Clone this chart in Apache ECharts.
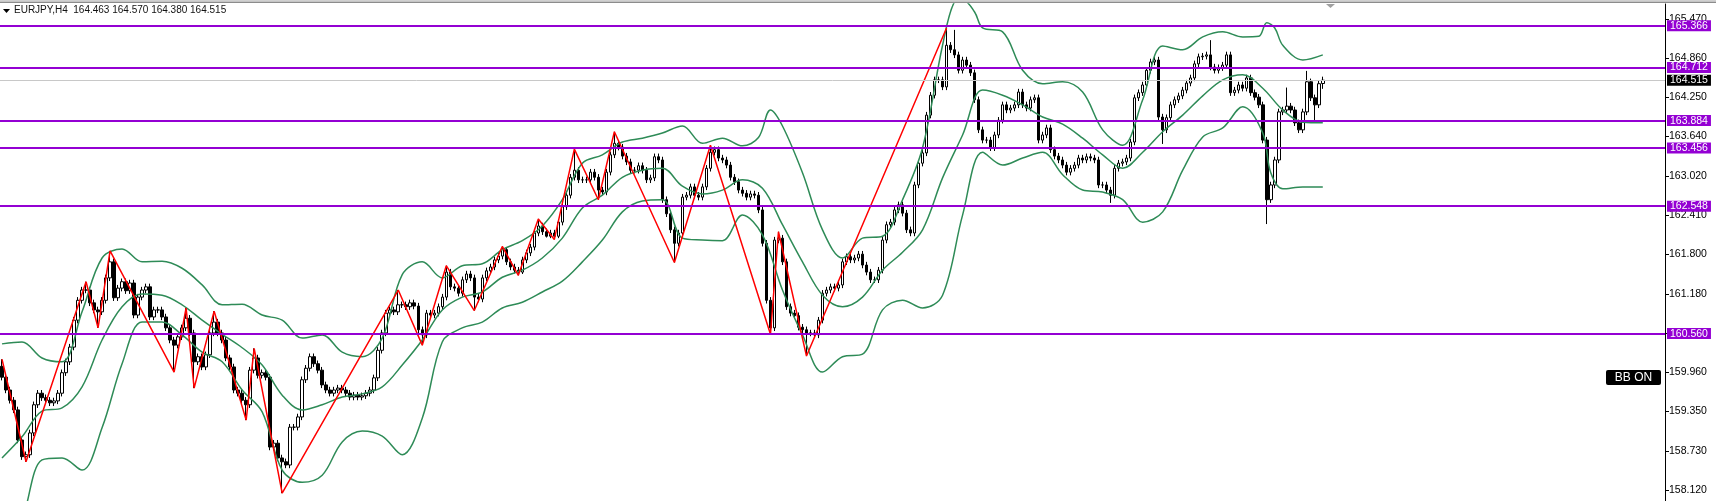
<!DOCTYPE html>
<html><head><meta charset="utf-8">
<script src="https://cdn.jsdelivr.net/npm/echarts@6/dist/echarts.min.js"></script>
<style>html,body{margin:0;padding:0;background:#fff}#c{width:1716px;height:501px}</style>
</head><body><div id="c"></div>
<script>
const symbolName = 'EURJPY,H4';
const lastBar = [164.463, 164.570, 164.380, 164.515];

const opens = [
160.05,159.88,159.68,159.52,159.37,158.90,158.64,158.67,159.01,159.45,
159.63,159.56,159.52,159.48,159.51,159.63,159.95,160.12,160.35,160.77,
161.08,161.24,161.24,161.04,160.93,160.90,161.08,161.43,161.68,161.12,
161.27,161.37,161.23,161.35,160.85,161.13,161.24,161.29,160.82,160.93,
160.93,160.82,160.65,160.46,160.38,160.51,160.65,160.80,160.57,160.12,
160.20,160.04,160.23,160.57,160.74,160.57,160.46,160.18,160.04,159.68,
159.63,159.52,159.45,159.99,160.18,159.91,159.95,159.88,158.79,158.85,
158.62,158.56,158.51,159.10,159.10,159.26,159.84,160.02,160.20,160.09,
159.99,159.76,159.68,159.63,159.68,159.71,159.68,159.63,159.57,159.60,
159.57,159.59,159.63,159.68,159.87,160.30,160.57,160.88,160.93,160.90,
161.01,161.01,160.98,161.04,160.99,160.62,160.54,160.88,160.85,160.88,
160.98,161.13,161.52,161.29,161.27,161.19,161.40,161.49,161.43,161.13,
161.10,161.43,161.54,161.60,161.71,161.77,161.87,161.68,161.60,161.55,
161.52,161.71,161.82,161.91,162.13,162.24,162.15,162.08,162.13,162.08,
162.30,162.54,162.72,163.00,163.11,162.96,162.96,162.96,163.08,163.00,
162.80,162.77,163.08,163.35,163.53,163.47,163.33,163.24,163.11,163.11,
163.18,163.11,162.96,162.99,163.32,163.27,162.65,162.43,162.18,161.97,
162.13,162.69,162.72,162.85,162.72,162.69,162.85,163.14,163.39,163.43,
163.30,163.27,163.19,163.00,162.93,162.80,162.75,162.69,162.74,162.72,
162.49,161.97,161.08,160.65,162.02,162.05,161.68,160.98,160.88,160.84,
160.66,160.62,160.57,160.57,160.54,160.77,161.19,161.24,161.29,161.27,
161.32,161.68,161.76,161.71,161.74,161.80,161.63,161.52,161.40,161.40,
161.55,162.02,162.26,162.30,162.49,162.57,162.44,162.18,162.13,162.88,
163.22,163.38,163.97,164.28,164.52,164.52,164.41,165.06,164.99,164.91,
164.67,164.83,164.75,164.63,164.21,163.74,163.58,163.58,163.46,163.66,
163.89,164.13,164.05,164.08,164.13,164.33,164.13,164.08,164.21,164.24,
163.58,163.66,163.77,163.43,163.33,163.27,163.19,163.08,163.14,163.19,
163.30,163.27,163.32,163.30,163.27,162.88,162.88,162.80,162.72,163.14,
163.22,163.24,163.30,163.55,164.24,164.32,164.44,164.67,164.80,164.83,
163.94,163.74,163.93,164.13,164.21,164.27,164.36,164.47,164.55,164.77,
164.88,164.89,164.91,164.72,164.67,164.71,164.75,164.91,164.32,164.36,
164.44,164.39,164.55,164.32,164.25,164.13,163.58,162.65,162.88,163.27,
164.02,164.05,164.11,164.05,163.85,163.74,164.02,164.49,164.24,164.13,
164.463];

const closes = [
159.88,159.68,159.52,159.37,158.90,158.64,158.67,159.01,159.45,159.63,
159.56,159.52,159.48,159.51,159.63,159.95,160.12,160.35,160.77,161.08,
161.24,161.24,161.04,160.93,160.90,161.08,161.43,161.68,161.12,161.27,
161.37,161.23,161.35,160.85,161.13,161.24,161.29,160.82,160.93,160.93,
160.82,160.65,160.46,160.38,160.51,160.65,160.80,160.57,160.12,160.20,
160.04,160.23,160.57,160.74,160.57,160.46,160.18,160.04,159.68,159.63,
159.52,159.45,159.99,160.18,159.91,159.95,159.88,158.79,158.85,158.62,
158.56,158.51,159.10,159.10,159.26,159.84,160.02,160.20,160.09,159.99,
159.76,159.68,159.63,159.68,159.71,159.68,159.63,159.57,159.60,159.57,
159.59,159.63,159.68,159.87,160.30,160.57,160.88,160.93,160.90,161.01,
161.01,160.98,161.04,160.99,160.62,160.54,160.88,160.85,160.88,160.98,
161.13,161.52,161.29,161.27,161.19,161.40,161.49,161.43,161.13,161.10,
161.43,161.54,161.60,161.71,161.77,161.87,161.68,161.60,161.55,161.52,
161.71,161.82,161.91,162.13,162.24,162.15,162.08,162.13,162.08,162.30,
162.54,162.72,163.00,163.11,162.96,162.96,162.96,163.08,163.00,162.80,
162.77,163.08,163.35,163.53,163.47,163.33,163.24,163.11,163.11,163.18,
163.11,162.96,162.99,163.32,163.27,162.65,162.43,162.18,161.97,162.13,
162.69,162.72,162.85,162.72,162.69,162.85,163.14,163.39,163.43,163.30,
163.27,163.19,163.00,162.93,162.80,162.75,162.69,162.74,162.72,162.49,
161.97,161.08,160.65,162.02,162.05,161.68,160.98,160.88,160.84,160.66,
160.62,160.57,160.57,160.54,160.77,161.19,161.24,161.29,161.27,161.32,
161.68,161.76,161.71,161.74,161.80,161.63,161.52,161.40,161.40,161.55,
162.02,162.26,162.30,162.49,162.57,162.44,162.18,162.13,162.88,163.22,
163.38,163.97,164.28,164.52,164.52,164.41,165.06,164.99,164.91,164.67,
164.83,164.75,164.63,164.21,163.74,163.58,163.58,163.46,163.66,163.89,
164.13,164.05,164.08,164.13,164.33,164.13,164.08,164.21,164.24,163.58,
163.66,163.77,163.43,163.33,163.27,163.19,163.08,163.14,163.19,163.30,
163.27,163.32,163.30,163.27,162.88,162.88,162.80,162.72,163.14,163.22,
163.24,163.30,163.55,164.24,164.32,164.44,164.67,164.80,164.83,163.94,
163.74,163.93,164.13,164.21,164.27,164.36,164.47,164.55,164.77,164.88,
164.89,164.91,164.72,164.67,164.71,164.75,164.91,164.32,164.36,164.44,
164.39,164.55,164.32,164.25,164.13,163.58,162.65,162.88,163.27,164.02,
164.05,164.11,164.05,163.85,163.74,164.02,164.49,164.24,164.13,164.46,
164.515];

const highs = [
160.16,159.93,159.73,159.57,159.42,158.95,158.72,159.06,159.50,159.68,
159.68,159.61,159.57,159.56,159.68,160.00,160.17,160.40,160.82,161.13,
161.29,161.37,161.29,161.09,160.98,161.13,161.48,161.85,161.73,161.32,
161.42,161.42,161.40,161.40,161.18,161.29,161.34,161.34,160.98,160.98,
160.98,160.87,160.70,160.51,160.56,160.70,160.96,160.85,160.62,160.25,
160.25,160.28,160.62,160.91,160.79,160.62,160.51,160.23,160.09,159.73,
159.68,159.57,160.04,160.33,160.23,160.00,160.00,159.93,158.90,158.90,
158.67,158.61,159.15,159.15,159.31,159.89,160.07,160.25,160.25,160.14,
160.04,159.81,159.73,159.73,159.76,159.76,159.73,159.68,159.65,159.65,
159.64,159.68,159.73,159.92,160.35,160.62,160.93,160.98,160.98,161.24,
161.06,161.06,161.09,161.09,161.04,160.67,160.93,160.93,160.93,161.03,
161.18,161.62,161.57,161.34,161.32,161.45,161.54,161.54,161.48,161.18,
161.48,161.59,161.65,161.76,161.82,161.92,161.90,161.73,161.65,161.60,
161.76,161.87,161.96,162.18,162.35,162.29,162.20,162.18,162.18,162.33,
162.59,162.77,163.05,163.44,163.16,163.01,163.01,163.13,163.13,163.05,
162.85,163.13,163.40,163.71,163.58,163.52,163.38,163.29,163.16,163.23,
163.23,163.16,163.04,163.37,163.37,163.32,162.70,162.48,162.23,162.18,
162.74,162.77,162.90,162.90,162.77,162.90,163.19,163.50,163.48,163.48,
163.35,163.32,163.24,163.05,162.98,162.85,162.80,162.79,162.79,162.77,
162.54,162.02,161.13,162.07,162.15,162.10,161.73,161.03,160.93,160.89,
160.71,160.67,160.62,160.62,160.82,161.24,161.29,161.34,161.34,161.37,
161.73,161.81,161.81,161.79,161.85,161.85,161.68,161.57,161.45,161.60,
162.07,162.31,162.35,162.54,162.62,162.62,162.49,162.23,162.93,163.27,
163.43,164.02,164.33,164.57,164.57,164.57,165.33,165.11,165.30,164.96,
164.88,164.88,164.80,164.68,164.26,163.79,163.63,163.63,163.71,163.94,
164.18,164.18,164.13,164.18,164.38,164.38,164.18,164.26,164.29,164.29,
163.71,163.82,163.82,163.48,163.38,163.32,163.24,163.19,163.24,163.35,
163.35,163.37,163.37,163.35,163.32,162.93,162.93,162.85,163.19,163.27,
163.29,163.35,163.60,164.29,164.37,164.49,164.72,164.85,164.88,164.88,
163.99,163.98,164.18,164.26,164.32,164.41,164.52,164.60,164.82,164.93,
164.94,164.96,165.14,164.77,164.76,164.80,164.96,164.96,164.41,164.49,
164.49,164.60,164.60,164.37,164.30,164.18,163.63,162.93,163.32,164.07,
164.10,164.40,164.16,164.10,163.90,164.07,164.66,164.54,164.29,164.51,
164.570];

const lows = [
159.83,159.63,159.47,159.32,158.85,158.59,158.56,158.62,158.96,159.40,
159.51,159.47,159.43,159.43,159.46,159.58,159.90,160.07,160.30,160.72,
161.03,161.19,160.99,160.88,160.65,160.85,161.03,161.38,161.07,161.07,
161.22,161.18,161.18,160.80,160.80,161.08,161.19,160.77,160.77,160.88,
160.77,160.60,160.41,159.96,160.33,160.46,160.60,160.52,159.71,160.07,
159.99,159.99,160.18,160.52,160.52,160.41,160.13,159.99,159.63,159.58,
159.47,159.21,159.40,159.94,159.86,159.86,159.83,158.74,158.74,158.57,
158.07,158.46,158.46,159.05,159.05,159.21,159.79,159.97,160.04,159.94,
159.71,159.63,159.58,159.58,159.63,159.63,159.58,159.52,159.52,159.52,
159.52,159.54,159.58,159.63,159.82,160.25,160.52,160.83,160.85,160.85,
160.96,160.93,160.93,160.94,160.57,160.38,160.49,160.80,160.80,160.83,
160.93,161.08,161.24,161.22,161.14,161.14,161.35,161.38,160.92,161.05,
161.05,161.38,161.49,161.55,161.66,161.72,161.63,161.55,161.50,161.47,
161.49,161.66,161.77,161.86,162.08,162.10,162.06,162.05,162.03,162.05,
162.25,162.49,162.67,162.95,162.91,162.91,162.91,162.91,162.95,162.65,
162.72,162.72,163.03,163.30,163.42,163.28,163.19,163.06,163.06,163.06,
163.06,162.91,162.91,162.94,163.22,162.60,162.38,162.13,161.67,161.92,
162.08,162.64,162.67,162.67,162.64,162.64,162.80,163.09,163.34,163.25,
163.22,163.14,162.95,162.88,162.75,162.70,162.64,162.64,162.67,162.44,
161.92,161.03,160.55,160.60,161.97,161.63,160.93,160.83,160.79,160.61,
160.57,160.21,160.52,160.49,160.49,160.72,161.14,161.19,161.22,161.22,
161.27,161.63,161.66,161.66,161.69,161.58,161.47,161.35,161.35,161.35,
161.50,161.97,162.21,162.25,162.44,162.39,162.13,162.08,162.08,162.83,
163.17,163.33,163.92,164.23,164.47,164.36,164.36,164.94,164.86,164.62,
164.62,164.70,164.58,164.16,163.69,163.53,163.53,163.41,163.41,163.61,
163.84,164.00,164.00,164.03,164.08,164.08,164.03,164.03,164.16,163.53,
163.53,163.61,163.38,163.28,163.22,163.14,163.03,163.03,163.09,163.14,
163.22,163.22,163.25,163.22,162.83,162.83,162.75,162.60,162.67,163.09,
163.17,163.19,163.25,163.50,164.19,164.27,164.39,164.62,164.75,163.89,
163.52,163.69,163.88,164.08,164.16,164.22,164.31,164.42,164.50,164.72,
164.83,164.84,164.67,164.62,164.62,164.66,164.70,164.27,164.27,164.31,
164.34,164.34,164.27,164.20,164.08,163.53,162.27,162.60,162.83,163.22,
163.97,164.00,164.00,163.80,163.69,163.69,163.97,164.19,163.89,164.08,
164.380];

// Bollinger bands: [bar index, price]
const bbUpper = [[0,160.40],[5,160.43],[10,160.18],[15,160.12],[20,160.90],[25,161.74],[30,161.88],[35,161.68],[40,161.69],[45,161.58],[50,161.32],[55,161.01],[60,161.02],[65,160.85],[70,160.77],[75,160.49],[80,160.54],[85,160.27],[90,160.20],[95,160.49],[100,161.48],[105,161.68],[110,161.43],[115,161.62],[120,161.65],[125,161.87],[130,162.01],[135,162.24],[140,162.65],[145,163.22],[150,163.35],[155,163.55],[160,163.61],[165,163.69],[170,163.80],[175,163.53],[180,163.61],[185,163.49],[189,163.62],[192,164.05],[195,163.80],[200,163.07],[205,162.18],[210,161.74],[215,162.05],[220,162.08],[225,162.65],[230,163.46],[235,165.06],[238,165.74],[240,165.77],[243,165.58],[245,165.33],[250,165.27],[255,164.67],[260,164.46],[265,164.49],[270,164.33],[275,163.74],[280,163.50],[285,164.21],[290,165.05],[295,164.99],[300,165.19],[305,165.27],[310,165.19],[314,165.20],[316,165.41],[318,165.33],[320,165.06],[325,164.83],[330,164.91]];
const bbMiddle = [[0,158.62],[5,158.95],[10,159.35],[15,159.40],[20,159.73],[25,160.46],[30,160.98],[35,161.18],[40,161.16],[45,161.01],[50,160.77],[55,160.55],[60,160.34],[65,160.07],[70,159.60],[75,159.37],[80,159.45],[85,159.57],[90,159.62],[95,159.73],[100,160.07],[105,160.46],[110,160.93],[115,161.13],[120,161.21],[125,161.44],[130,161.55],[135,161.74],[140,162.05],[145,162.52],[150,162.72],[155,163.00],[160,163.11],[165,163.14],[170,162.86],[175,162.74],[180,162.80],[185,162.96],[190,162.83],[195,162.26],[200,161.68],[205,161.16],[210,160.98],[215,161.13],[220,161.55],[225,161.83],[230,162.18],[235,162.99],[240,163.66],[245,164.36],[250,164.28],[255,164.13],[260,163.94],[265,163.83],[270,163.61],[275,163.35],[280,163.14],[285,163.39],[290,163.71],[295,163.97],[300,164.27],[305,164.52],[310,164.60],[315,164.39],[320,164.05],[325,163.86],[330,163.85]];
const bbLower = [[0,157.03],[5,157.65],[10,158.59],[15,158.62],[20,158.43],[25,159.09],[30,160.09],[35,160.74],[40,160.74],[45,160.54],[50,160.27],[55,160.12],[60,159.68],[65,159.34],[70,158.43],[75,158.24],[80,158.35],[85,158.87],[90,159.04],[95,158.96],[100,158.67],[105,159.24],[110,160.43],[115,160.65],[120,160.74],[125,160.96],[130,161.05],[135,161.21],[140,161.38],[145,161.68],[150,162.02],[155,162.46],[160,162.63],[165,162.65],[170,162.05],[175,162.02],[180,162.01],[185,162.41],[190,162.10],[195,161.24],[200,160.54],[205,159.96],[210,160.20],[215,160.24],[220,160.93],[225,161.08],[230,160.96],[235,161.16],[240,162.41],[245,163.39],[250,163.19],[255,163.30],[260,163.39],[265,163.04],[270,162.80],[275,162.77],[280,162.65],[285,162.30],[290,162.46],[295,163.11],[300,163.63],[305,163.77],[310,164.10],[315,163.69],[317,163.07],[320,162.82],[325,162.85],[330,162.85]];

// ZigZag turning points: [bar index, price]
const zigzag = [[0,160.16],[6,158.56],[21,161.37],[24,160.65],[27,161.85],[43,159.96],[46,160.96],[48,159.71],[53,160.91],[61,159.21],[63,160.33],[70,158.07],[99,161.24],[105,160.38],[111,161.62],[118,160.92],[125,161.92],[129,161.47],[134,162.35],[138,162.03],[143,163.44],[149,162.65],[153,163.71],[168,161.67],[177,163.50],[192,160.55],[194,162.15],[201,160.21],[236,165.33]];

const levels = [165.366, 164.712, 163.884, 163.456, 162.548, 160.560];
const bidPrice = 164.515;
const yTicks = [165.470,164.860,164.250,163.640,163.020,162.410,161.800,161.180,160.570,159.960,159.350,158.730,158.120];

const slotCount = 416; // visible bar slots incl. right-side chart shift
const categories = Array.from({length: slotCount}, (_, i) => 'bar' + i);
const candleData = opens.map((o, i) => [o, closes[i], lows[i], highs[i]]);

const FONT = '"Liberation Sans", Arial, sans-serif';
const chart = echarts.init(document.getElementById('c'), null, {renderer: 'canvas'});
const bandStyle = {type: 'line', symbol: 'none', smooth: 0.35, clip: true, z: 3,
  lineStyle: {color: '#2E8B57', width: 1.5}, emphasis: {disabled: true}, silent: true};

chart.setOption({
  animation: false,
  backgroundColor: '#ffffff',
  grid: {left: 0, right: 51, top: 4, bottom: 0, containLabel: false},
  xAxis: {type: 'category', data: categories, boundaryGap: true, show: false},
  yAxis: {
    type: 'value', position: 'right', min: 157.948, max: 165.704,
    splitLine: {show: false},
    axisLine: {show: true, lineStyle: {color: '#000', width: 1}},
    axisTick: {show: true, length: 4, customValues: yTicks, lineStyle: {color: '#000'}},
    axisLabel: {customValues: yTicks, formatter: v => v.toFixed(3), color: '#000',
      fontSize: 10.5, fontFamily: FONT, margin: 4}
  },
  series: [
    {
      type: 'candlestick', data: candleData, barWidth: 3, z: 2, silent: true,
      itemStyle: {color: '#ffffff', color0: '#000000', borderColor: '#000000', borderColor0: '#000000', borderWidth: 1},
      markLine: {
        symbol: ['none', 'none'], silent: true, animation: false, precision: 3,
        label: {show: true, position: 'end', distance: 2, formatter: p => Number(p.value).toFixed(3),
          color: '#fff', fontSize: 10.5, fontFamily: FONT, padding: [1, 3, 0, 3], lineHeight: 10},
        data: [
          {yAxis: bidPrice, lineStyle: {color: '#c8c8c8', width: 1, type: 'solid'}, label: {backgroundColor: '#000'}},
          ...levels.map(v => ({yAxis: v, lineStyle: {color: '#9400D3', width: 2, type: 'solid'}, label: {backgroundColor: '#9400D3'}}))
        ]
      }
    },
    Object.assign({data: bbUpper}, bandStyle),
    Object.assign({data: bbMiddle}, bandStyle),
    Object.assign({data: bbLower}, bandStyle),
    {type: 'line', data: zigzag, symbol: 'none', z: 4, silent: true,
      lineStyle: {color: '#ff0000', width: 1.5}}
  ],
  graphic: [
    {type: 'rect', shape: {x: 0, y: 0, width: 1716, height: 1}, style: {fill: '#d0d0d0'}, z: 100},
    {type: 'rect', shape: {x: 0, y: 1.5, width: 1716, height: 1.5}, style: {fill: '#8c8c8c'}, z: 100},
    {type: 'polygon', shape: {points: [[1326, 4], [1335, 4], [1330.5, 8]]}, style: {fill: '#a0a0a0'}, z: 100},
    {type: 'polygon', shape: {points: [[3, 9], [10, 9], [6.5, 13]]}, style: {fill: '#000'}, z: 100},
    {type: 'text', x: 14, y: 5, z: 100,
      style: {text: symbolName + '  ' + lastBar.map(v => v.toFixed(3)).join(' '), fill: '#111', font: '10px ' + FONT}},
    {type: 'rect', shape: {x: 1606, y: 370, width: 55, height: 15, r: 2}, style: {fill: '#000'}, z: 100},
    {type: 'text', x: 1633.5, y: 378, z: 101,
      style: {text: 'BB ON', fill: '#fff', font: '12px ' + FONT, align: 'center', verticalAlign: 'middle'}}
  ]
});
</script>
</body></html>
